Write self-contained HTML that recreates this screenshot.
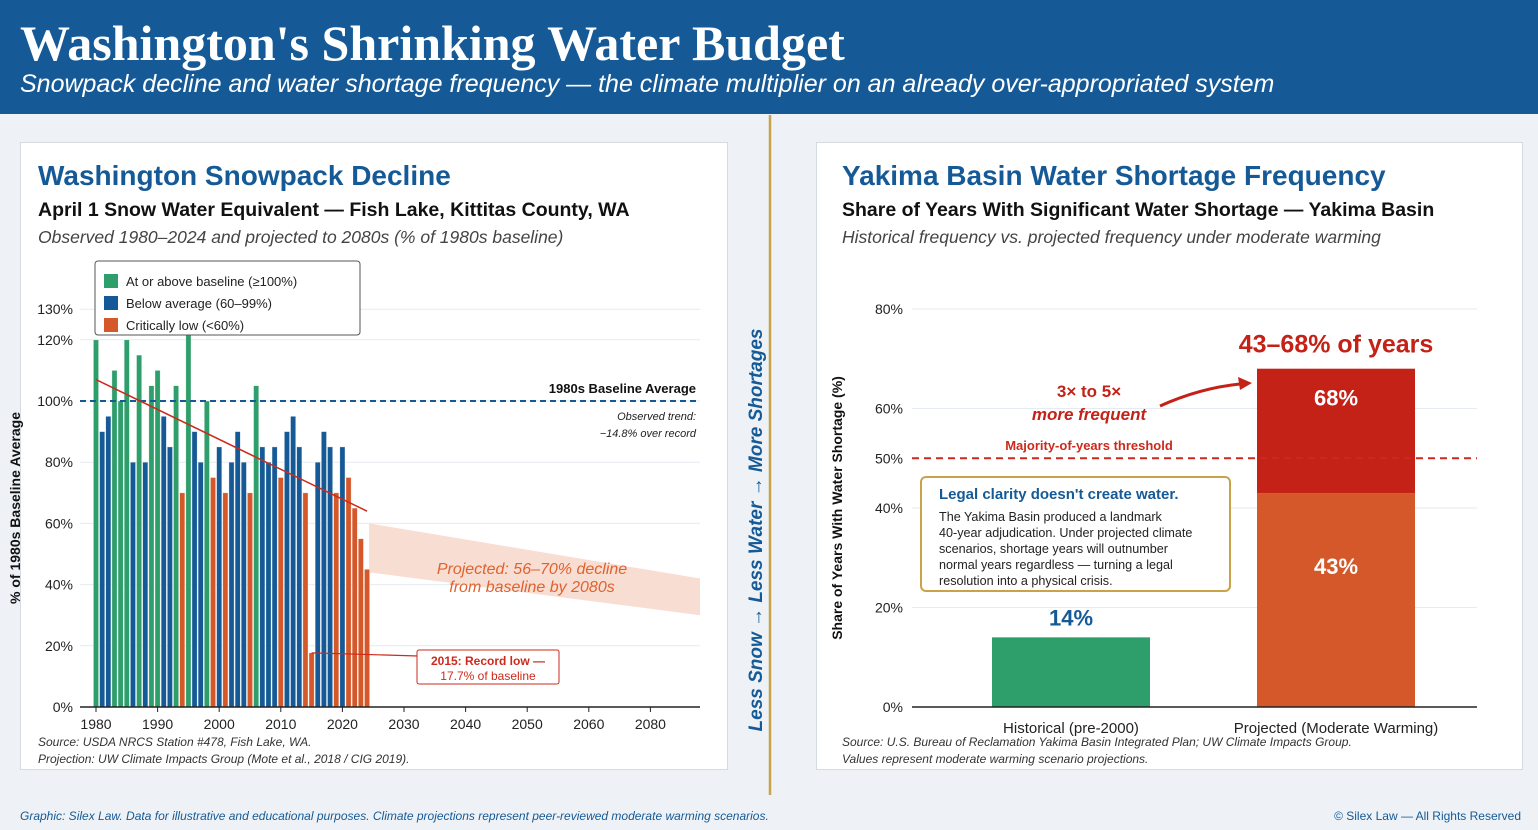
<!DOCTYPE html>
<html><head><meta charset="utf-8"><style>
body{margin:0;width:1538px;height:830px;background:#eef2f6;font-family:"Liberation Sans",sans-serif;position:relative;overflow:hidden}
.hdr{position:absolute;left:0;top:0;width:1538px;height:114px;background:#155a96}
.hdr h1{position:absolute;left:20px;top:14px;margin:0;font-family:"Liberation Serif",serif;font-weight:bold;font-size:50px;color:#fff}
.hdr p{position:absolute;left:20px;top:70px;margin:0;font-style:italic;font-size:25px;color:#fff}
.card{position:absolute;top:142px;height:626px;background:#fff;border:1px solid #d5dbe2}
svg{position:absolute;left:0;top:0}
</style></head><body>
<div class="hdr">
<h1>Washington's Shrinking Water Budget</h1>
<p>Snowpack decline and water shortage frequency — the climate multiplier on an already over-appropriated system</p>
</div>
<div class="card" style="left:20px;width:706px"></div>
<div class="card" style="left:816px;width:705px"></div>
<svg id="s" width="1538" height="830">
<line x1="770" y1="115" x2="770" y2="795" stroke="#c9a24a" stroke-width="2.5"/>
<text transform="translate(762,530) rotate(-90)" text-anchor="middle" font-size="19" font-weight="bold" font-style="italic" fill="#155a96">Less Snow → Less Water → More Shortages</text>
<text x="38" y="185" font-size="28" font-weight="bold" fill="#155a96">Washington Snowpack Decline</text>
<text x="38" y="216" font-size="19.5" font-weight="bold" fill="#111">April 1 Snow Water Equivalent — Fish Lake, Kittitas County, WA</text>
<text x="38" y="243" font-size="17.5" font-style="italic" fill="#444">Observed 1980–2024 and projected to 2080s (% of 1980s baseline)</text>
<text x="842" y="185" font-size="28" font-weight="bold" fill="#155a96">Yakima Basin Water Shortage Frequency</text>
<text x="842" y="216" font-size="19.5" font-weight="bold" fill="#111">Share of Years With Significant Water Shortage — Yakima Basin</text>
<text x="842" y="243" font-size="17.5" font-style="italic" fill="#444">Historical frequency vs. projected frequency under moderate warming</text>
<text transform="translate(20,508) rotate(-90)" text-anchor="middle" font-size="14" font-weight="bold" fill="#111">% of 1980s Baseline Average</text>
<text transform="translate(842,508) rotate(-90)" text-anchor="middle" font-size="14" font-weight="bold" fill="#111">Share of Years With Water Shortage (%)</text>
<g id="L"></g><g id="R"></g>
<text x="38" y="746" font-size="12" font-style="italic" fill="#333">Source: USDA NRCS Station #478, Fish Lake, WA.</text>
<text x="38" y="763" font-size="12" font-style="italic" fill="#333">Projection: UW Climate Impacts Group (Mote et al., 2018 / CIG 2019).</text>
<text x="842" y="746" font-size="12" font-style="italic" fill="#333">Source: U.S. Bureau of Reclamation Yakima Basin Integrated Plan; UW Climate Impacts Group.</text>
<text x="842" y="763" font-size="12" font-style="italic" fill="#333">Values represent moderate warming scenario projections.</text>
<text x="20" y="820" font-size="12" font-style="italic" fill="#155a96">Graphic: Silex Law. Data for illustrative and educational purposes. Climate projections represent peer-reviewed moderate warming scenarios.</text>
<text x="1521" y="820" text-anchor="end" font-size="12" fill="#155a96">© Silex Law — All Rights Reserved</text>
</svg>
<script>
const years=[];for(let y=1980;y<=2024;y++)years.push(y);
const swe=[120,90,95,110,100,120,80,115,80,105,110,95,85,105,70,122,90,80,100,75,85,70,80,90,80,70,105,85,80,85,75,90,95,85,70,17.7,80,90,85,70,85,75,65,55,45];
const yTicks=[0,20,40,60,80,100,120,130];
const xTicks=[1980,1990,2000,2010,2020,2030,2040,2050,2060,2070];
const xTickLabels=["1980","1990","2000","2010","2020","2030","2040","2050","2060","2080"];
const trend=[107,64];
const projTop=[60,42];const projBot=[44,30];
const cats=["Historical (pre-2000)","Projected (Moderate Warming)"];
const histVal=[14];const projLow=[43];const projHigh=[68];
const rTicks=[0,20,40,50,60,80];
const NS="http://www.w3.org/2000/svg";
function mk(p,t,a,txt){const e=document.createElementNS(NS,t);for(const k in a)e.setAttribute(k,a[k]);if(txt!=null)e.textContent=txt;p.appendChild(e);return e;}
const L=document.getElementById('L'),R=document.getElementById('R');
const X=y=>96+(y-1980)*6.16, Y=v=>707-v*3.06;
yTicks.forEach(t=>{mk(L,'line',{x1:80,x2:700,y1:Y(t),y2:Y(t),stroke:'#e6ebf1'});
const e=mk(L,'text',{x:73,y:Y(t)+5,'text-anchor':'end','font-size':14,fill:'#222'},t+'%');
});
xTicks.forEach((t,i)=>{mk(L,'line',{x1:X(t),x2:X(t),y1:707,y2:712,stroke:'#222'});
const e=mk(L,'text',{x:X(t),y:729,'text-anchor':'middle','font-size':14,fill:'#222'},xTickLabels[i]);
});
const x0=X(2024)+2,x1=700;
const band=mk(L,'polygon',{points:`${x0},${Y(projTop[0])} ${x1},${Y(projTop[1])} ${x1},${Y(projBot[1])} ${x0},${Y(projBot[0])}`,fill:'#f8ddd2'});

years.forEach((y,i)=>{const v=swe[i];const c=v>=100?'#2e9e6a':v>=80?'#155a96':'#d5582a';
const b=mk(L,'rect',{x:X(y)-2.6,y:Y(Math.min(v,130)),width:5.2,height:Y(0)-Y(Math.min(v,130)),fill:c,stroke:'#fff','stroke-width':0.6,'stroke-opacity':0.6});
});
mk(L,'line',{x1:80,x2:700,y1:707,y2:707,stroke:'#222','stroke-width':1.5});
mk(L,'line',{x1:80,x2:700,y1:Y(100),y2:Y(100),stroke:'#155a96','stroke-width':2,'stroke-dasharray':'6,4'});
const tl=mk(L,'line',{x1:X(1980),y1:Y(trend[0]),x2:X(2024),y2:Y(trend[1]),stroke:'#cc2a1c','stroke-width':1.5});

mk(L,'text',{x:696,y:393,'text-anchor':'end','font-size':13,'font-weight':'bold',fill:'#111'},'1980s Baseline Average');
mk(L,'text',{x:696,y:420,'text-anchor':'end','font-size':11,'font-style':'italic',fill:'#222'},'Observed trend:');
mk(L,'text',{x:696,y:437,'text-anchor':'end','font-size':11,'font-style':'italic',fill:'#222'},'−14.8% over record');
mk(L,'text',{x:532,y:574,'text-anchor':'middle','font-size':16,'font-style':'italic',fill:'#e0622e'},'Projected: 56–70% decline');
mk(L,'text',{x:532,y:592,'text-anchor':'middle','font-size':16,'font-style':'italic',fill:'#e0622e'},'from baseline by 2080s');
mk(L,'line',{x1:X(2015),y1:Y(swe[35]),x2:418,y2:656,stroke:'#cc2a1c','stroke-width':1.2});
mk(L,'rect',{x:417,y:650,width:142,height:34,fill:'#fff',stroke:'#cc2a1c',rx:2});
mk(L,'text',{x:488,y:665,'text-anchor':'middle','font-size':12,'font-weight':'bold',fill:'#cc2a1c'},'2015: Record low —');
mk(L,'text',{x:488,y:680,'text-anchor':'middle','font-size':12,fill:'#cc2a1c'},'17.7% of baseline');
const lg=mk(L,'g',{});
mk(lg,'rect',{x:95,y:261,width:265,height:74,fill:'#fff',stroke:'#555',rx:3});
[['#2e9e6a','At or above baseline (≥100%)'],['#155a96','Below average (60–99%)'],['#d5582a','Critically low (<60%)']].forEach((d,i)=>{
mk(lg,'rect',{x:104,y:274+i*22,width:14,height:14,fill:d[0]});
mk(lg,'text',{x:126,y:286+i*22,'font-size':13,fill:'#222'},d[1]);});
const RY=v=>707-v*4.975;
rTicks.forEach(t=>{if(t!==50&&t!==0)mk(R,'line',{x1:912,x2:1477,y1:RY(t),y2:RY(t),stroke:'#e6ebf1'});
const e=mk(R,'text',{x:903,y:RY(t)+5,'text-anchor':'end','font-size':14,fill:'#222'},t+'%');
});
const cx=[1071,1336];
let b=mk(R,'rect',{x:cx[0]-79,y:RY(histVal[0]),width:158,height:RY(0)-RY(histVal[0]),fill:'#2e9e6a'});

b=mk(R,'rect',{x:cx[1]-79,y:RY(projLow[0]),width:158,height:RY(0)-RY(projLow[0]),fill:'#d5582a'});

b=mk(R,'rect',{x:cx[1]-79,y:RY(projHigh[0]),width:158,height:RY(projLow[0])-RY(projHigh[0]),fill:'#c42117'});

mk(R,'line',{x1:912,x2:1477,y1:707,y2:707,stroke:'#222','stroke-width':1.5});
mk(R,'line',{x1:912,x2:1477,y1:RY(50),y2:RY(50),stroke:'#cc2a1c','stroke-width':2,'stroke-dasharray':'7,5'});
mk(R,'text',{x:1089,y:450,'text-anchor':'middle','font-size':13,'font-weight':'bold',fill:'#cc2a1c'},'Majority-of-years threshold');
cats.forEach((c,i)=>mk(R,'text',{x:cx[i],y:733,'text-anchor':'middle','font-size':15,fill:'#222'},c));
mk(R,'text',{x:cx[0],y:RY(histVal[0])-12,'text-anchor':'middle','font-size':22,'font-weight':'bold',fill:'#155a96'},histVal[0]+'%');
mk(R,'text',{x:cx[1],y:(RY(projLow[0])+RY(0))/2-26,'text-anchor':'middle','font-size':22,'font-weight':'bold',fill:'#fff'},projLow[0]+'%');
mk(R,'text',{x:cx[1],y:RY(projHigh[0])+37,'text-anchor':'middle','font-size':22,'font-weight':'bold',fill:'#fff'},projHigh[0]+'%');
mk(R,'text',{x:cx[1],y:RY(projHigh[0])-16,'text-anchor':'middle','font-size':25,'font-weight':'bold',fill:'#c42117'},projLow[0]+'–'+projHigh[0]+'% of years');
mk(R,'text',{x:1089,y:397,'text-anchor':'middle','font-size':17,'font-weight':'bold',fill:'#c42117'},'3× to 5×');
mk(R,'text',{x:1089,y:420,'text-anchor':'middle','font-size':17,'font-weight':'bold','font-style':'italic',fill:'#c42117'},'more frequent');
mk(R,'path',{d:'M1160,406 Q1200,388 1240,384',fill:'none',stroke:'#c42117','stroke-width':3});
mk(R,'polygon',{points:'1252,383 1238,377 1240,390',fill:'#c42117'});
const cb=mk(R,'g',{});
mk(cb,'rect',{x:921,y:477,width:309,height:114,rx:5,fill:'#fff',stroke:'#c9a24a','stroke-width':2});
mk(cb,'text',{x:939,y:499,'font-size':15,'font-weight':'bold',fill:'#155a96'},"Legal clarity doesn't create water.");
["The Yakima Basin produced a landmark","40-year adjudication. Under projected climate","scenarios, shortage years will outnumber","normal years regardless — turning a legal","resolution into a physical crisis."].forEach((t,i)=>mk(cb,'text',{x:939,y:521+i*16,'font-size':12.6,fill:'#222'},t));
</script>
</body></html>
